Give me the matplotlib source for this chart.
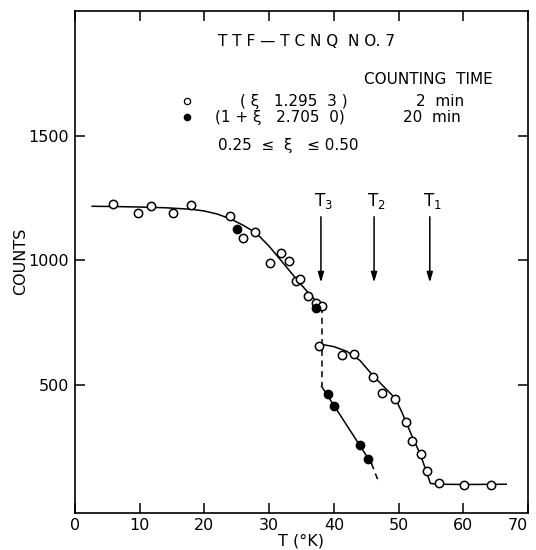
import numpy as np
import matplotlib
matplotlib.use("Agg")
import matplotlib.pyplot as plt

# 2 min counts, (xi 1.295 3)
t_open = [5.9, 9.8, 11.8, 15.1, 17.9, 23.9, 26.0, 27.9, 30.1, 31.8, 33.0, 34.1, 34.8,
          36.0, 37.2, 38.1, 37.7, 41.2, 43.1, 46.0, 47.5, 49.5, 51.1, 52.1, 53.4,
          54.3, 56.2, 60.1, 64.2]
c_open = [1227, 1191, 1219, 1191, 1223, 1180, 1089, 1113, 989, 1031, 997, 917, 927,
          858, 829, 816, 656, 620, 627, 533, 469, 447, 353, 276, 227,
          156, 109, 100, 100]

# 20 min counts, (1+xi 2.705 0)
t_fill = [25.1, 37.2, 39.1, 40.0, 44.1, 45.3]
c_fill = [1128, 808, 464, 416, 263, 207]

# hand drawn guide curves
t_high = [2.7, 6, 10, 14, 18, 20, 22, 24, 26, 28, 30, 32, 34, 36, 38.1]
c_high = [1217, 1216, 1214, 1211, 1205, 1198, 1186, 1167, 1141, 1110, 1057, 995, 932, 872, 814]

t_mid = [38.1, 40, 42, 44, 46, 47.5, 49.5, 50.5, 52, 53.4, 54.9, 56.2, 60, 66.6]
c_mid = [664, 655, 636, 600, 540, 500, 447, 392, 300, 220, 107, 104, 103, 104]

t_low = [38.1, 45.8]
c_low = [496, 187]
t_low_ext = [45.8, 47.0]
c_low_ext = [187, 107]

# transition temperatures
t_trans = [38.0, 46.2, 54.8]
trans_labels = ["T$_3$", "T$_2$", "T$_1$"]

fig = plt.figure(figsize=(5.36, 5.5), dpi=100)
ax = fig.add_axes([0.1394, 0.0678, 0.8462, 0.9127])
lw = 1.1

ax.plot(t_high, c_high, color="k", lw=lw)
ax.plot(t_mid, c_mid, color="k", lw=lw)
ax.plot(t_low, c_low, color="k", lw=lw)
ax.plot(t_low_ext, c_low_ext, color="k", lw=lw, ls=(0, (4, 3)))
ax.plot([38.1, 38.1], [c_high[-1], c_low[0]], color="k", lw=lw, ls=(0, (4, 3)))

ax.plot(t_open, c_open, "o", mfc="white", mec="k", mew=1.1, ms=6, ls="none", zorder=3)
ax.plot(t_fill, c_fill, "o", mfc="k", mec="k", ms=6, ls="none", zorder=4)

for t, lab in zip(t_trans, trans_labels):
    ax.annotate("", xy=(t, 912), xytext=(t, 1175),
                arrowprops=dict(arrowstyle="-|>,head_length=0.6,head_width=0.18",
                                color="k", lw=1.1, shrinkA=0, shrinkB=0))
    ax.text(t + 0.4, 1240, lab, ha="center", va="center", fontsize=12)

fs = 11
tr = ax.transAxes
ax.text(0.51, 0.938, "T T F — T C N Q  N O. 7", transform=tr, ha="center", va="center", fontsize=fs)
ax.text(0.779, 0.862, "COUNTING  TIME", transform=tr, ha="center", va="center", fontsize=fs)
ax.plot([0.248], [0.820], "o", transform=tr, mfc="white", mec="k", mew=0.9, ms=4.5)
ax.plot([0.248], [0.788], "o", transform=tr, mfc="k", mec="k", ms=4.5)
ax.text(0.484, 0.820, "( ξ   1.295  3 )", transform=tr, ha="center", va="center", fontsize=fs)
ax.text(0.806, 0.820, "2  min", transform=tr, ha="center", va="center", fontsize=fs)
ax.text(0.453, 0.788, "(1 + ξ   2.705  0)", transform=tr, ha="center", va="center", fontsize=fs)
ax.text(0.788, 0.788, "20  min", transform=tr, ha="center", va="center", fontsize=fs)
ax.text(0.471, 0.732, "0.25  ≤  ξ   ≤ 0.50", transform=tr, ha="center", va="center", fontsize=fs)

ax.set_xlim(0, 70)
ax.set_ylim(-10, 2000)
ax.set_xticks(np.arange(0, 71, 10))
ax.set_yticks([500, 1000, 1500])
ax.tick_params(direction="in", length=7, width=1.1, labelsize=11.5,
               top=True, right=True, pad=4)
for s in ax.spines.values():
    s.set_linewidth(1.2)
ax.get_xticklabels()[-1].set_horizontalalignment("right")
ax.set_xlabel("T (°K)", fontsize=11.5, labelpad=0)
ax.set_ylabel("COUNTS", fontsize=11.5, labelpad=0)

fig.savefig("out.png", dpi=100)
